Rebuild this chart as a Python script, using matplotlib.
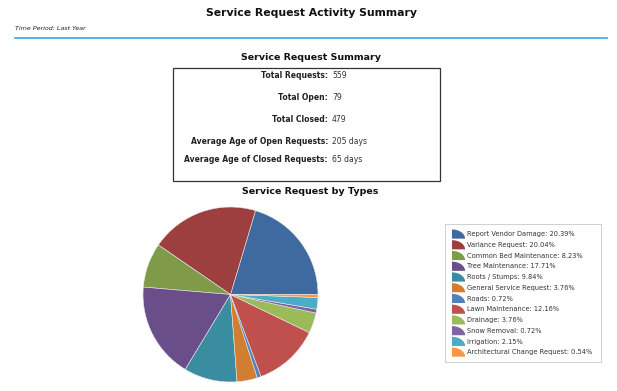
import numpy as np
import matplotlib.pyplot as plt
from matplotlib.patches import Wedge, Rectangle, Polygon
from matplotlib.legend_handler import HandlerBase

# Data
stat_labels = ["Total Requests:", "Total Open:", "Total Closed:",
               "Average Age of Open Requests:", "Average Age of Closed Requests:"]
stat_values = ["559", "79", "479", "205 days", "65 days"]

types = ["Report Vendor Damage", "Variance Request", "Common Bed Maintenance",
         "Tree Maintenance", "Roots / Stumps", "General Service Request", "Roads",
         "Lawn Maintenance", "Drainage", "Snow Removal", "Irrigation",
         "Architectural Change Request"]
shares = [20.39, 20.04, 8.23, 17.71, 9.84, 3.76, 0.72, 12.16, 3.76, 0.72, 2.15, 0.54]
colors = ["#3E6AA0", "#9C3F3E", "#7F9A48", "#6A4E89", "#3A8CA0", "#D17E33",
          "#4F81BD", "#C0504D", "#9BBB59", "#8064A2", "#4BACC6", "#F79646"]

W, H = 617, 391
fig = plt.figure(figsize=(W / 100, H / 100), dpi=100)


def fx(x):
    return x / W


def fy(y):
    return 1 - y / H


# header
fig.text(fx(311), fy(13), "Service Request Activity Summary", ha="center", va="center",
         fontsize=7.8, fontweight="bold", color="#111111")
fig.text(fx(15), fy(29), "Time Period: Last Year", ha="left", va="center",
         fontsize=4.6, style="italic", color="#222222")
fig.add_artist(plt.Line2D([fx(15), fx(607)], [fy(38), fy(38)], color="#3DB2EE", lw=1.3))

# summary box
fig.text(fx(311), fy(58), "Service Request Summary", ha="center", va="center",
         fontsize=6.8, fontweight="bold", color="#111111")
fig.add_artist(Rectangle((fx(173), fy(181)), fx(440) - fx(173), fy(68) - fy(181),
                         transform=fig.transFigure, fill=False, ec="#333333", lw=0.9))
rows_y = [76, 98, 120, 141, 160]
for lab, val, y in zip(stat_labels, stat_values, rows_y):
    fig.text(fx(328), fy(y), lab, ha="right", va="center", fontsize=5.5,
             fontweight="bold", color="#222222")
    fig.text(fx(332), fy(y), val, ha="left", va="center", fontsize=5.5, color="#333333")

# pie
fig.text(fx(310), fy(192), "Service Request by Types", ha="center", va="center",
         fontsize=6.8, fontweight="bold", color="#111111")
ax = fig.add_axes([fx(143), fy(382), 175 / W, 175 / H])
wedges, _ = ax.pie(shares, colors=colors, startangle=0, counterclock=True,
                   wedgeprops={"edgecolor": "#E8E8E8", "linewidth": 0.4})
ax.set_xlim(-1, 1)
ax.set_ylim(-1, 1)
ax.set_aspect("equal")


class WedgeHandler(HandlerBase):
    # quarter-ellipse marker like the original legend symbols
    def create_artists(self, legend, orig_handle, xdescent, ydescent, width, height,
                       fontsize, trans):
        x0, y0 = -xdescent, -ydescent - 1.2
        w, h = 9.4, 6.6
        t = np.linspace(0, np.pi / 2, 20)
        pts = [(x0, y0)] + [(x0 + w * np.cos(a), y0 + h * np.sin(a)) for a in t]
        p = Polygon(pts, closed=True, facecolor=orig_handle.get_facecolor(),
                    edgecolor="none", transform=trans)
        return [p]


leg_labels = ["%s: %.2f%%" % (t, s) for t, s in zip(types, shares)]
leg = fig.legend(wedges, leg_labels, handler_map={Wedge: WedgeHandler()},
                 loc="upper left", bbox_to_anchor=(fx(445), fy(363), 156 / W, 139 / H),
                 mode="expand", borderaxespad=0,
                 fontsize=4.8, frameon=True, fancybox=False, edgecolor="#BBBBBB",
                 handlelength=1.96, handleheight=1.0, handletextpad=0.3,
                 labelspacing=0.67, borderpad=1.05, labelcolor="#333333")
leg.get_frame().set_linewidth(0.6)

fig.savefig("out.png", dpi=100)
